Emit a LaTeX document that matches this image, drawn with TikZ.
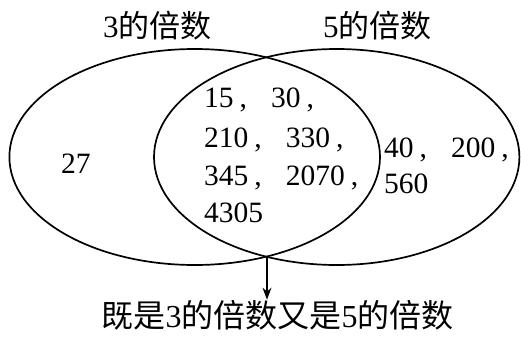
\documentclass[tikz,border=0pt]{standalone}
\usepackage{fontspec}
\setmainfont{Liberation Serif}
\newfontfamily\cjk{Noto Sans CJK SC}
\usetikzlibrary{shapes.geometric,arrows.meta}
\newcommand{\cm}{\hspace{6pt},\hspace{24pt}}
\newcommand{\cmend}{\hspace{6pt},}
\begin{document}
\begin{tikzpicture}[x=1pt,y=-1pt,
  setring/.style={draw, ellipse, inner sep=0pt, line width=1.7pt},
  nums/.style={inner sep=0pt, anchor=base west, font=\fontsize{29.5}{29.5}\selectfont},
  title/.style={inner sep=0pt, anchor=base west, font=\fontsize{31}{31}\selectfont}]
\useasboundingbox (0,0) rectangle (521,340);
\node[setring, minimum width=370.6pt, minimum height=216pt] (L) at (194.7,157) {};
\node[setring, minimum width=365.4pt, minimum height=216pt] (R) at (336.7,157) {};
\node[title] (tL) at (103,37) {3{\cjk 的倍数}};
\node[title] (tR) at (323,37) {5{\cjk 的倍数}};
\node[nums] (n27) at (61,173) {27};
\node[nums] (m1) at (204,107) {15\cm 30\cmend};
\node[nums] (m2) at (204,147) {210\cm 330\cmend};
\node[nums] (m3) at (204,185) {345\cm 2070\cmend};
\node[nums] (m4) at (204,222) {4305};
\node[nums] (r1) at (384,157) {40\cm 200\cmend};
\node[nums] (r2) at (384,193) {560};
\coordinate (X) at (267,256.5);
\node[inner sep=0pt, anchor=base, font=\fontsize{32}{32}\selectfont] (lab) at (277.5,327) {{\cjk 既是}3{\cjk 的倍数又是}5{\cjk 的倍数}};
\draw[line width=1.4pt, -{Stealth[length=12pt,width=9pt]}] (X) -- (X |- lab.north);
\end{tikzpicture}
\end{document}
